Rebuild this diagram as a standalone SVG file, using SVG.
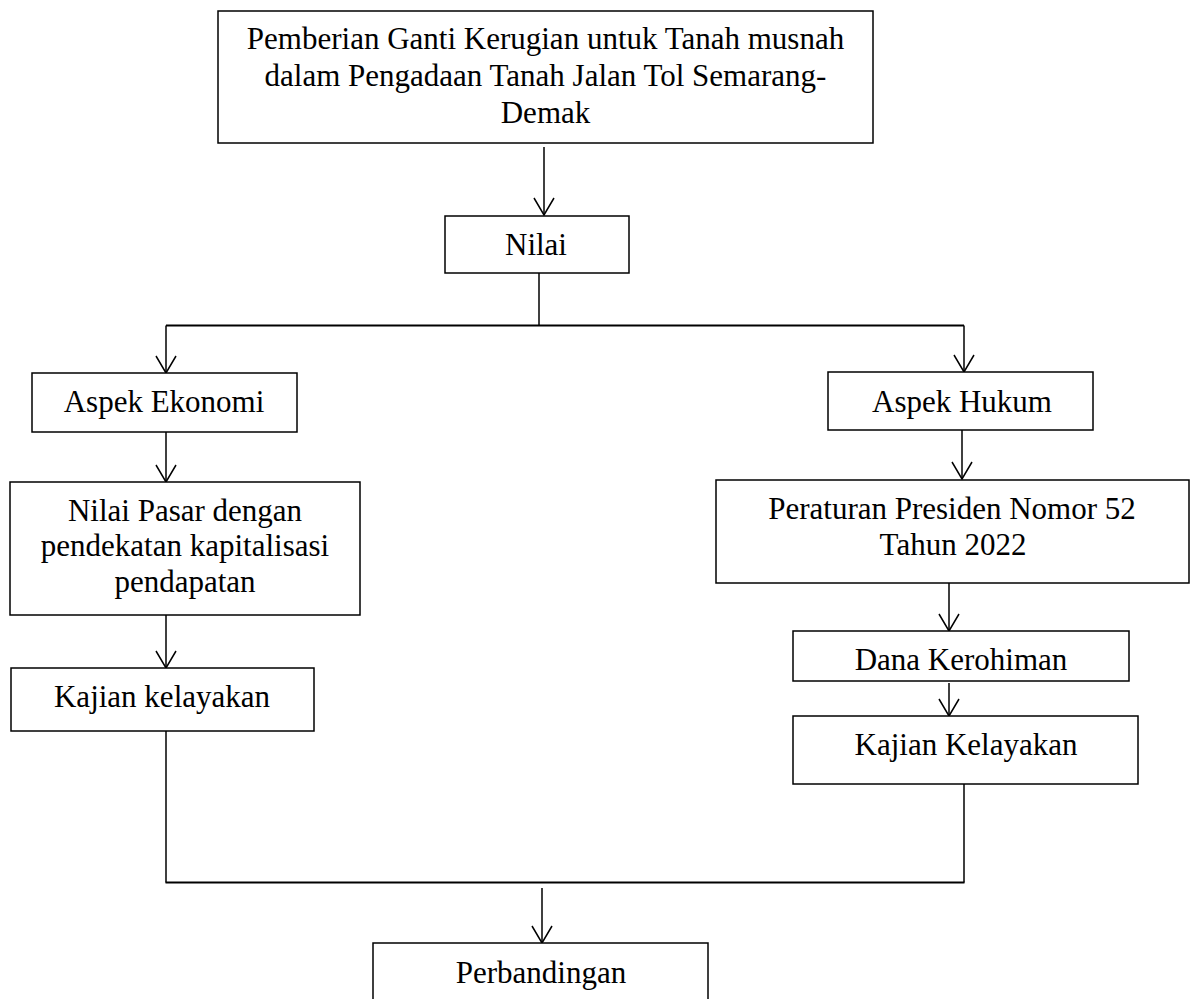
<svg xmlns="http://www.w3.org/2000/svg" width="1194" height="999" viewBox="0 0 1194 999">
<style>
.box{fill:#fff;stroke:#000;stroke-width:1.5}
.t{font-family:"Liberation Serif","Times New Roman",serif;font-size:31px;fill:#000;text-anchor:middle}
.c{fill:none;stroke:#000;stroke-width:1.5}
.c2{fill:none;stroke:#000;stroke-width:2.2}
</style>
<defs>
<marker id="arr" markerUnits="userSpaceOnUse" viewBox="-1 -1 20 22" refX="17" refY="10" markerWidth="20" markerHeight="22" orient="auto">
<path d="M0,0 L17,10 L0,20" fill="none" stroke="#000" stroke-width="1.5"/>
</marker>
</defs>
<rect width="1194" height="999" fill="#fff"/>
<g id="connectors">
<line class="c" x1="544" y1="147" x2="544" y2="215" marker-end="url(#arr)"/>
<line class="c" x1="539" y1="273" x2="539" y2="325.5"/>
<line class="c2" x1="166" y1="325.5" x2="964" y2="325.5"/>
<line class="c" x1="166" y1="325.5" x2="166" y2="373" marker-end="url(#arr)"/>
<line class="c" x1="964" y1="325.5" x2="964" y2="372" marker-end="url(#arr)"/>
<line class="c" x1="166" y1="432" x2="166" y2="482" marker-end="url(#arr)"/>
<line class="c" x1="166" y1="615" x2="166" y2="668" marker-end="url(#arr)"/>
<line class="c" x1="166" y1="731" x2="166" y2="882.5"/>
<line class="c" x1="962" y1="430" x2="962" y2="479" marker-end="url(#arr)"/>
<line class="c" x1="949" y1="583" x2="949" y2="631" marker-end="url(#arr)"/>
<line class="c" x1="949" y1="683" x2="949" y2="716" marker-end="url(#arr)"/>
<line class="c" x1="964" y1="784" x2="964" y2="882.5"/>
<line class="c2" x1="165.5" y1="882.5" x2="964.5" y2="882.5"/>
<line class="c" x1="542" y1="888" x2="542" y2="943" marker-end="url(#arr)"/>
</g>
<g id="node-top">
<rect class="box" x="218" y="11" width="655" height="132"/>
<text class="t" x="545.5" y="49">Pemberian Ganti Kerugian untuk Tanah musnah</text>
<text class="t" x="545.5" y="86">dalam Pengadaan Tanah Jalan Tol Semarang-</text>
<text class="t" x="545.5" y="123">Demak</text>
</g>
<g id="node-nilai">
<rect class="box" x="445" y="216" width="184" height="57"/>
<text class="t" x="536" y="255">Nilai</text>
</g>
<g id="node-ekonomi">
<rect class="box" x="32" y="373" width="265" height="59"/>
<text class="t" x="164" y="412">Aspek Ekonomi</text>
</g>
<g id="node-pasar">
<rect class="box" x="10" y="482" width="350" height="133"/>
<text class="t" x="185" y="521">Nilai Pasar dengan</text>
<text class="t" x="185" y="556">pendekatan kapitalisasi</text>
<text class="t" x="185" y="592">pendapatan</text>
</g>
<g id="node-kajian-kiri">
<rect class="box" x="11" y="668" width="303" height="63"/>
<text class="t" x="162" y="707">Kajian kelayakan</text>
</g>
<g id="node-hukum">
<rect class="box" x="828" y="372" width="265" height="58"/>
<text class="t" x="962" y="412">Aspek Hukum</text>
</g>
<g id="node-perpres">
<rect class="box" x="716" y="480" width="473" height="103"/>
<text class="t" x="952" y="519">Peraturan Presiden Nomor 52</text>
<text class="t" x="953" y="555">Tahun 2022</text>
</g>
<g id="node-dana">
<rect class="box" x="793" y="631" width="336" height="50"/>
<text class="t" x="961" y="670">Dana Kerohiman</text>
</g>
<g id="node-kajian-kanan">
<rect class="box" x="793" y="716" width="345" height="68"/>
<text class="t" x="966" y="755">Kajian Kelayakan</text>
</g>
<g id="node-perbandingan">
<rect class="box" x="373" y="943" width="335" height="70"/>
<text class="t" x="541" y="983">Perbandingan</text>
</g>
</svg>
